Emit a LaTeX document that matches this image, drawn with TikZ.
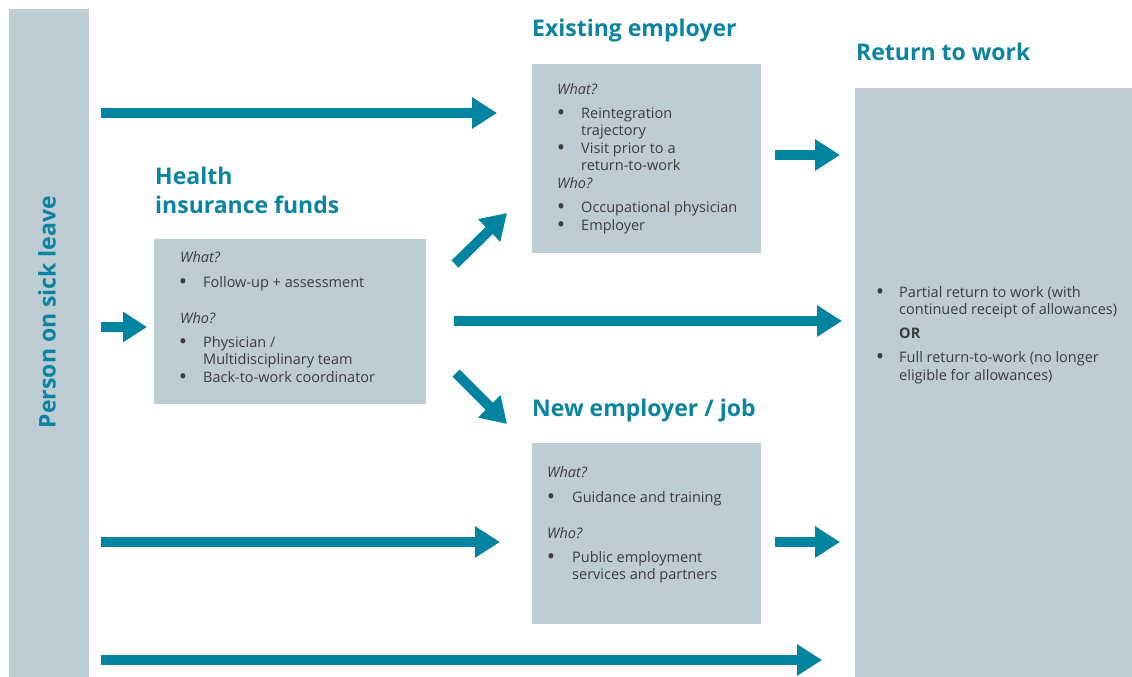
\documentclass[tikz,border=0pt]{standalone}
\usepackage{fontspec}
\setmainfont{Open Sans}
\usetikzlibrary{arrows.meta}
\definecolor{tealc}{HTML}{00849F}
\definecolor{headc}{HTML}{0A84A0}
\definecolor{boxgray}{HTML}{BECCD4}
\definecolor{txtgray}{HTML}{3C3C3C}
\begin{document}
\begin{tikzpicture}[x=1pt,y=-1pt,
  panel/.style={fill=boxgray, draw=none, anchor=north west, inner sep=0pt, outer sep=0pt},
  head/.style={anchor=base west, text=headc, font=\fontsize{23}{26}\selectfont\bfseries, inner sep=0pt},
  txt/.style={anchor=base west, text=txtgray, font=\fontsize{14.5}{18}\selectfont, inner sep=0pt},
  qtxt/.style={anchor=base west, text=txtgray, font=\fontsize{14.5}{18}\selectfont\itshape, inner sep=0pt},
  boldtxt/.style={anchor=base west, text=txtgray, font=\fontsize{14.5}{18}\selectfont\bfseries, inner sep=0pt},
  bul/.style={anchor=base, text=txtgray, font=\fontsize{17}{18}\selectfont\bfseries, inner sep=0pt},
  flow/.style={draw=tealc, line width=10pt, -{Triangle[length=25pt,width=30pt]}},
  smallflow/.style={draw=tealc, line width=10pt, -{Triangle[length=24pt,width=29pt]}},
]
\useasboundingbox (0,0) rectangle (1132,677);
\fill[white] (0,0) rectangle (1132,677);

% panels
\node[panel, minimum width=80pt, minimum height=668pt] (person) at (9,9) {};
\node[panel, minimum width=272pt, minimum height=165pt] (hif) at (154,239) {};
\node[panel, minimum width=229pt, minimum height=189pt] (ee) at (532,64) {};
\node[panel, minimum width=229pt, minimum height=181pt] (ne) at (532,443) {};
\node[panel, minimum width=277pt, minimum height=589pt] (rtw) at (855,88) {};

% left label
\node[rotate=90, text=headc, font=\fontsize{23}{26}\selectfont\bfseries, inner sep=0pt] (personlbl) at (47,312) {Person on sick leave};

% headings
\node[head] (hhif1) at (155,184) {Health};
\node[head] (hhif2) at (155,213) {insurance funds};
\node[head] (hee) at (532,37) {Existing employer};
\node[head] (hrtw) at (856,61) {Return to work};
\node[head] (hne) at (532,416) {New employer / job};

% HIF text
\node[qtxt] (hw1) at (180,262) {What?};
\node[bul] (hb1) at (183,287) {•};
\node[txt] (ht1) at (203,287) {Follow-up + assessment};
\node[qtxt] (hw2) at (180,323) {Who?};
\node[bul] (hb2) at (183,347) {•};
\node[txt] (ht2) at (203,347) {Physician /};
\node[txt] (ht3) at (203,364.5) {Multidisciplinary team};
\node[bul] (hb3) at (183,382) {•};
\node[txt] (ht4) at (203,382) {Back-to-work coordinator};

% EE text
\node[qtxt] (ew1) at (557,94) {What?};
\node[bul] (eb1) at (561,118) {•};
\node[txt] (et1) at (581,118) {Reintegration};
\node[txt] (et2) at (581,135.5) {trajectory};
\node[bul] (eb2) at (561,153) {•};
\node[txt] (et3) at (581,153) {Visit prior to a};
\node[txt] (et4) at (581,170.5) {return-to-work};
\node[qtxt] (ew2) at (557,188) {Who?};
\node[bul] (eb3) at (561,212) {•};
\node[txt] (et5) at (581,212) {Occupational physician};
\node[bul] (eb4) at (561,230) {•};
\node[txt] (et6) at (581,230) {Employer};

% NE text
\node[qtxt] (nw1) at (547,477) {What?};
\node[bul] (nb1) at (551,502) {•};
\node[txt] (nt1) at (572,502) {Guidance and training};
\node[qtxt] (nw2) at (547,538) {Who?};
\node[bul] (nb2) at (551,562) {•};
\node[txt] (nt2) at (572,562) {Public employment};
\node[txt] (nt3) at (572,579.5) {services and partners};

% RTW text
\node[bul] (rb1) at (880,297) {•};
\node[txt] (rt1) at (899,297) {Partial return to work (with};
\node[txt] (rt2) at (899,314.5) {continued receipt of allowances)};
\node[boldtxt] (rt3) at (899,338.5) {OR};
\node[bul] (rb2) at (880,362.5) {•};
\node[txt] (rt4) at (899,362.5) {Full return-to-work (no longer};
\node[txt] (rt5) at (899,380) {eligible for allowances)};

% arrow end points
\coordinate (a1s) at (101,113); \coordinate (a1e) at (497,113);
\coordinate (a2s) at (101,327); \coordinate (a2e) at (147,327);
\coordinate (a3s) at (455,264); \coordinate (a3e) at (507,213);
\coordinate (a4s) at (454,321); \coordinate (a4e) at (842,321);
\coordinate (a5s) at (456,373); \coordinate (a5e) at (507,424);
\coordinate (a6s) at (101,542); \coordinate (a6e) at (500,542);
\coordinate (a7s) at (775,155); \coordinate (a7e) at (840,155);
\coordinate (a8s) at (775,542); \coordinate (a8e) at (840,542);
\coordinate (a9s) at (101,660); \coordinate (a9e) at (822,660);

\draw[flow] (a1s) -- (a1e);
\draw[smallflow] (a2s) -- (a2e);
\draw[flow] (a3s) -- (a3e);
\draw[flow] (a4s) -- (a4e);
\draw[flow] (a5s) -- (a5e);
\draw[flow] (a6s) -- (a6e);
\draw[flow] (a7s) -- (a7e);
\draw[flow] (a8s) -- (a8e);
\draw[flow] (a9s) -- (a9e);
\end{tikzpicture}
\end{document}
